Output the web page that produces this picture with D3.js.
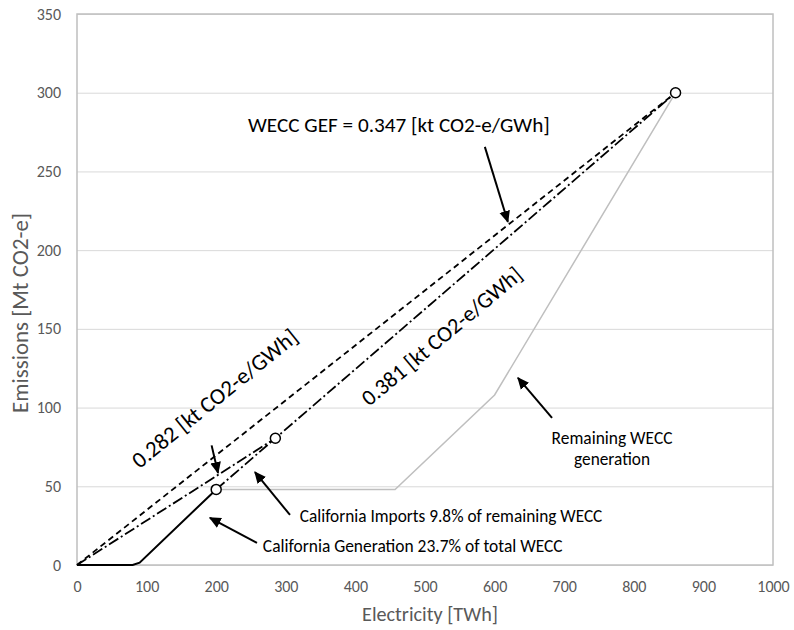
<!DOCTYPE html>
<html>
<head>
<meta charset="utf-8">
<script src="https://d3js.org/d3.v7.min.js"></script>
<style>
  body { margin: 0; background: #fff; }
  svg text { font-family: Carlito, Calibri, Lato, "Open Sans", sans-serif; }
</style>
</head>
<body>
<svg id="chart" width="794" height="630"></svg>
<script>
// series, [TWh, Mt CO2-e]
var wecc = [[0, 0], [860, 300]];                       // total WECC GEF line
var imports = [[0, 0], [285, 80.5], [860, 300]];       // 0.282 then 0.381
var caImports = [[200, 48], [285, 80.5]];
var caGen = [[0, 0], [80, 0], [90, 1.5], [200, 48]];
var remaining = [[200, 48], [457, 48], [600, 108], [860, 300]];
var markers = [[200, 48], [285, 80.5], [860, 300]];

var xTicks = [0, 100, 200, 300, 400, 500, 600, 700, 800, 900, 1000];
var yTicks = [0, 50, 100, 150, 200, 250, 300, 350];

// annotation arrows: [x1, y1, x2, y2] in data units
var arrows = [
  [586, 265.6, 619, 218],
  [193.4, 76, 202.6, 58.5],
  [306, 31.8, 255.7, 59],
  [258.6, 14, 191, 30],
  [682.5, 93.4, 633.6, 118.8]
];
var labels = [
  {text: "WECC GEF = 0.347 [kt CO2-e/GWh]", x: 245.7, y: 275, anchor: "start", rot: 0, w: 302},
  {text: "0.282 [kt CO2-e/GWh]", x: 197.5, y: 106, anchor: "middle", rot: -39, w: 206},
  {text: "0.381 [kt CO2-e/GWh]", x: 523.7, y: 145.5, anchor: "middle", rot: -40, w: 202},
  {text: "California Imports 9.8% of remaining WECC", x: 320, y: 27.3, anchor: "start", rot: 0, w: 303},
  {text: "California Generation 23.7% of total WECC", x: 267, y: 8.3, anchor: "start", rot: 0, w: 300},
  {text: "Remaining WECC", x: 768.7, y: 76.9, anchor: "middle", rot: 0, w: 121},
  {text: "generation", x: 768.7, y: 63.5, anchor: "middle", rot: 0, w: 76}
];

var svg = d3.select("#chart");
var x = d3.scaleLinear().domain([0, 1000]).range([77, 773]);
var y = d3.scaleLinear().domain([0, 350]).range([565, 14]);

// scale a text's font so it spans the width seen in the original
function fit(sel, w) {
  sel.each(function() {
    var fs = parseFloat(this.style.fontSize);
    var len = this.getComputedTextLength();
    if (len > 0) d3.select(this).style("font-size", (fs * w / len).toFixed(2) + "px");
  });
}

// gridlines
svg.append("g")
  .attr("transform", "translate(77,0)")
  .call(d3.axisLeft(y).tickValues(yTicks).tickSize(-696).tickFormat(""))
  .call(function(g) { g.select(".domain").remove(); })
  .selectAll("line").attr("stroke", "#d9d9d9").attr("stroke-width", 1);

// plot border
svg.append("rect")
  .attr("x", x(0)).attr("y", y(350))
  .attr("width", x(1000) - x(0)).attr("height", y(0) - y(350))
  .attr("fill", "none").attr("stroke", "#bfbfbf").attr("stroke-width", 1.5);

// tick labels
var yAxis = svg.append("g")
  .attr("transform", "translate(77,0)")
  .call(d3.axisLeft(y).tickValues(yTicks).tickSize(0).tickPadding(16));
var xAxis = svg.append("g")
  .attr("transform", "translate(0,565)")
  .call(d3.axisBottom(x).tickValues(xTicks).tickSize(0).tickPadding(16).tickFormat(d3.format("d")));
[xAxis, yAxis].forEach(function(a) {
  a.select(".domain").remove();
  a.selectAll("text").attr("fill", "#595959").style("font-size", "16px")
    .style("font-family", "Carlito, Calibri, Lato, 'Open Sans', sans-serif");
});

svg.append("text")
  .attr("x", 430).attr("y", 621).attr("text-anchor", "middle")
  .attr("fill", "#595959").style("font-size", "16px").text("Electricity [TWh]")
  .call(fit, 136);
svg.append("text")
  .attr("transform", "translate(28,313) rotate(-90)").attr("text-anchor", "middle")
  .attr("fill", "#595959").style("font-size", "16px").text("Emissions [Mt CO2-e]")
  .call(fit, 200);

var line = d3.line().x(function(d) { return x(d[0]); }).y(function(d) { return y(d[1]); });

svg.append("path").datum(remaining).attr("d", line)
  .attr("fill", "none").attr("stroke", "#bfbfbf").attr("stroke-width", 1.5);
svg.append("path").datum(caGen).attr("d", line)
  .attr("fill", "none").attr("stroke", "#000").attr("stroke-width", 2);
svg.append("path").datum(wecc).attr("d", line)
  .attr("fill", "none").attr("stroke", "#000").attr("stroke-width", 1.8)
  .attr("stroke-dasharray", "6,4");
svg.append("path").datum(imports).attr("d", line)
  .attr("fill", "none").attr("stroke", "#000").attr("stroke-width", 1.8)
  .attr("stroke-dasharray", "11,3,2,3");
svg.append("path").datum(caImports).attr("d", line)
  .attr("fill", "none").attr("stroke", "#000").attr("stroke-width", 1.8)
  .attr("stroke-dasharray", "11,3,2,3");

svg.selectAll(".pt").data(markers).enter().append("circle")
  .attr("class", "pt")
  .attr("cx", function(d) { return x(d[0]); })
  .attr("cy", function(d) { return y(d[1]); })
  .attr("r", 5).attr("fill", "#fff").attr("stroke", "#000").attr("stroke-width", 1.5);

// arrows
svg.append("defs").append("marker")
  .attr("id", "arrow").attr("viewBox", "0 -5 10 10")
  .attr("refX", 9).attr("refY", 0)
  .attr("markerWidth", 6).attr("markerHeight", 6)
  .attr("markerUnits", "strokeWidth")
  .attr("orient", "auto")
  .append("path").attr("d", "M0,-4.5L10,0L0,4.5Z").attr("fill", "#000");

svg.selectAll(".arrow").data(arrows).enter().append("line")
  .attr("class", "arrow")
  .attr("x1", function(d) { return x(d[0]); })
  .attr("y1", function(d) { return y(d[1]); })
  .attr("x2", function(d) { return x(d[2]); })
  .attr("y2", function(d) { return y(d[3]); })
  .attr("stroke", "#000").attr("stroke-width", 2)
  .attr("marker-end", "url(#arrow)");

svg.selectAll(".lbl").data(labels).enter().append("text")
  .attr("class", "lbl")
  .attr("transform", function(d) {
    return "translate(" + x(d.x) + "," + y(d.y) + ") rotate(" + d.rot + ")";
  })
  .attr("dy", function(d) { return d.rot ? "0.35em" : 0; })
  .attr("text-anchor", function(d) { return d.anchor; })
  .style("font-size", "18px")
  .attr("fill", "#000")
  .text(function(d) { return d.text; })
  .each(function(d) { fit(d3.select(this), d.w); });
</script>
</body>
</html>
